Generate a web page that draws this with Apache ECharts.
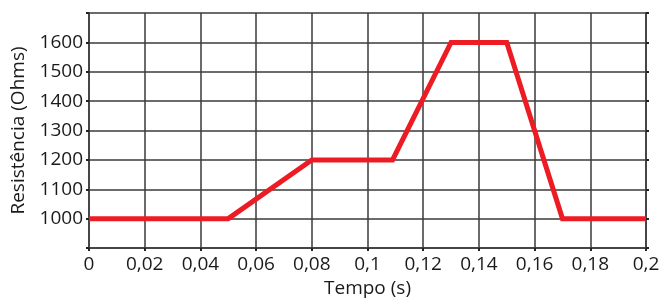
<!DOCTYPE html>
<html>
<head>
<meta charset="utf-8">
<script src="https://cdn.jsdelivr.net/npm/echarts@6/dist/echarts.min.js"></script>
<style>
  html, body { margin: 0; padding: 0; background: #fff; }
  #chart { width: 661px; height: 298px; }
</style>
</head>
<body>
<div id="chart"></div>
<script>
// dados
const tempo = [0, 0.05, 0.08, 0.109, 0.13, 0.15, 0.17, 0.2];
const resistencia = [1000, 1000, 1200, 1200, 1600, 1600, 1000, 1000];
const yLabels = [1000, 1100, 1200, 1300, 1400, 1500, 1600];

const chart = echarts.init(document.getElementById('chart'));
const font = '"Open Sans", "DejaVu Sans", sans-serif';
const gridLine = { show: true, lineStyle: { color: '#3a3a3a', width: 1.5 } };

const option = {
  backgroundColor: '#fff',
  animation: false,
  grid: { left: 89, right: 15, top: 13, bottom: 50, outerBoundsMode: 'none', containLabel: false },
  xAxis: {
    type: 'value',
    min: 0,
    max: 0.2,
    interval: 0.02,
    name: 'Tempo (s)',
    nameLocation: 'middle',
    nameGap: 28,
    nameTextStyle: { fontFamily: font, fontSize: 19, color: '#1a1a1a' },
    axisLine: { show: true, lineStyle: { color: '#3a3a3a', width: 1.5 } },
    axisTick: { show: true, length: 3, lineStyle: { color: '#222', width: 2 } },
    axisLabel: {
      fontFamily: font, fontSize: 19, color: '#1a1a1a', margin: 7,
      formatter: v => String(+v.toFixed(2)).replace('.', ',')
    },
    splitLine: gridLine
  },
  yAxis: [{
    type: 'value',
    min: 900,
    max: 1700,
    interval: 100,
    name: 'Resistência (Ohms)',
    nameLocation: 'middle',
    nameGap: 61,
    nameTextStyle: { fontFamily: font, fontSize: 19, color: '#1a1a1a' },
    axisLine: { show: true, lineStyle: { color: '#3a3a3a', width: 1.5 } },
    axisTick: { show: true, length: 3, lineStyle: { color: '#222', width: 2 } },
    axisLabel: {
      fontFamily: font, fontSize: 19, color: '#1a1a1a', margin: 6,
      formatter: v => yLabels.includes(v) ? String(v) : ''
    },
    splitLine: gridLine
  }, {
    type: 'value',
    position: 'right',
    min: 900,
    max: 1700,
    interval: 100,
    axisLine: { show: true, lineStyle: { color: '#3a3a3a', width: 1.5 } },
    axisTick: { show: true, length: 3, lineStyle: { color: '#222', width: 2 } },
    axisLabel: { show: false },
    splitLine: { show: false }
  }],
  series: [{
    type: 'line',
    data: tempo.map((t, i) => [t, resistencia[i]]),
    symbol: 'none',
    lineStyle: { color: '#ed1c24', width: 5, join: 'miter' }
  }]
};

chart.setOption(option);
</script>
</body>
</html>
